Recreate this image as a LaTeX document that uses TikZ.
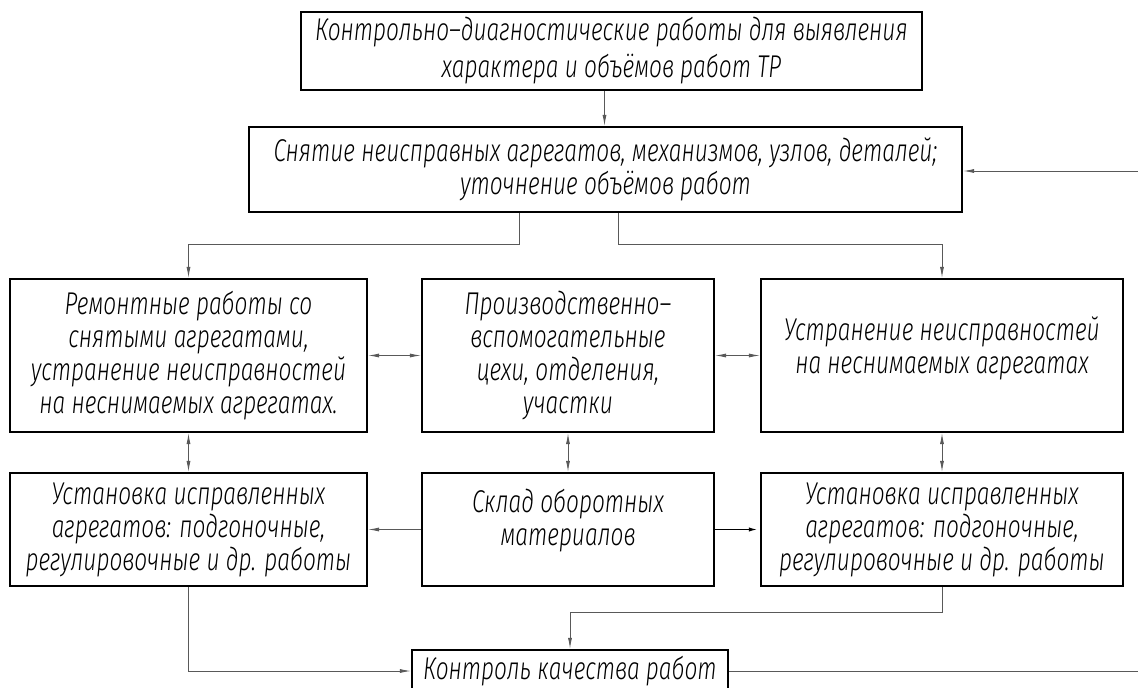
\documentclass[tikz,border=0pt]{standalone}
\usepackage{fontspec}
\setmainfont{Fira Sans}[UprightFont=* Light, ItalicFont=* Light Italic, FakeStretch=0.72]
\usetikzlibrary{arrows.meta}
\begin{document}
\begin{tikzpicture}[x=1pt,y=-1pt,
  box/.style={draw, line width=2.2pt, rectangle, inner sep=0pt, align=center,
    font=\fontsize{31.5}{33}\selectfont\itshape},
  conn/.style={line width=0.9pt, draw=black!65},
  tip/.tip={Latex[length=11pt,width=4pt]},
  arr/.style={conn, -tip},
  darr/.style={conn, tip-tip}]
\useasboundingbox (0,0) rectangle (1138,688);
\clip (0,0) rectangle (1138,688);
\fill[white] (0,0) rectangle (1138,688);

\node[box, minimum width=621pt, minimum height=78pt, font=\fontsize{31.5}{37}\selectfont\itshape] (A) at (611.5,51)
  {Контрольно–диагностические работы для выявления\\характера и объёмов работ ТР};
\node[box, minimum width=713pt, minimum height=85pt] (B) at (605.5,169.5)
  {Снятие неисправных агрегатов, механизмов, узлов, деталей;\\уточнение объёмов работ};

\node[box, minimum width=357pt, minimum height=153pt] (C) at (188.5,355.5)
  {Ремонтные работы со\\снятыми агрегатами,\\устранение неисправностей\\на неснимаемых агрегатах.};
\node[box, minimum width=292pt, minimum height=153pt] (D) at (568,355.5)
  {Производственно–\\вспомогательные\\цехи, отделения,\\участки};
\node[box, minimum width=362pt, minimum height=153pt] (E) at (942,355.5)
  {Устранение неисправностей\\на неснимаемых агрегатах\\[-12pt]\mbox{}};

\node[box, minimum width=357pt, minimum height=113pt] (F) at (188.5,529.5)
  {Установка исправленных\\агрегатов: подгоночные,\\регулировочные и др. работы};
\node[box, minimum width=292pt, minimum height=113pt] (G) at (568,529.5)
  {Склад оборотных\\материалов\\[-8pt]\mbox{}};
\node[box, minimum width=362pt, minimum height=113pt] (H) at (942,529.5)
  {Установка исправленных\\агрегатов: подгоночные,\\регулировочные и др. работы};

\node[box, minimum width=316pt, minimum height=42pt] (I) at (570,671)
  {Контроль качества работ};

\coordinate (fbB) at (1138,171);
\coordinate (fbI) at (1138,671);

\draw[arr] ([xshift=-7pt]A.south) -- ([xshift=-7pt]A.south |- B.north);
\draw[arr] ([xshift=-86.5pt]B.south) -- ++(0,31) -| (C.north);
\draw[arr] ([xshift=12.5pt]B.south) -- ++(0,31) -| (E.north);
\draw[arr] (fbB) -- (fbB -| B.east);

\draw[darr] (C.east) -- (D.west);
\draw[darr] (D.east) -- (E.west);
\draw[darr] (C.south) -- (F.north);
\draw[darr] (D.south) -- (G.north);
\draw[darr] (E.south) -- (H.north);

\draw[arr] (G.west) -- (F.east);
\draw[arr, line width=1.8pt, draw=black] (G.east) -- (H.west);

\draw[arr] (F.south) |- (I.west);
\draw[arr] (H.south) -- ++(0,25) -| (I.north);
\draw[conn] (I.east) -- (fbI);
\end{tikzpicture}
\end{document}
